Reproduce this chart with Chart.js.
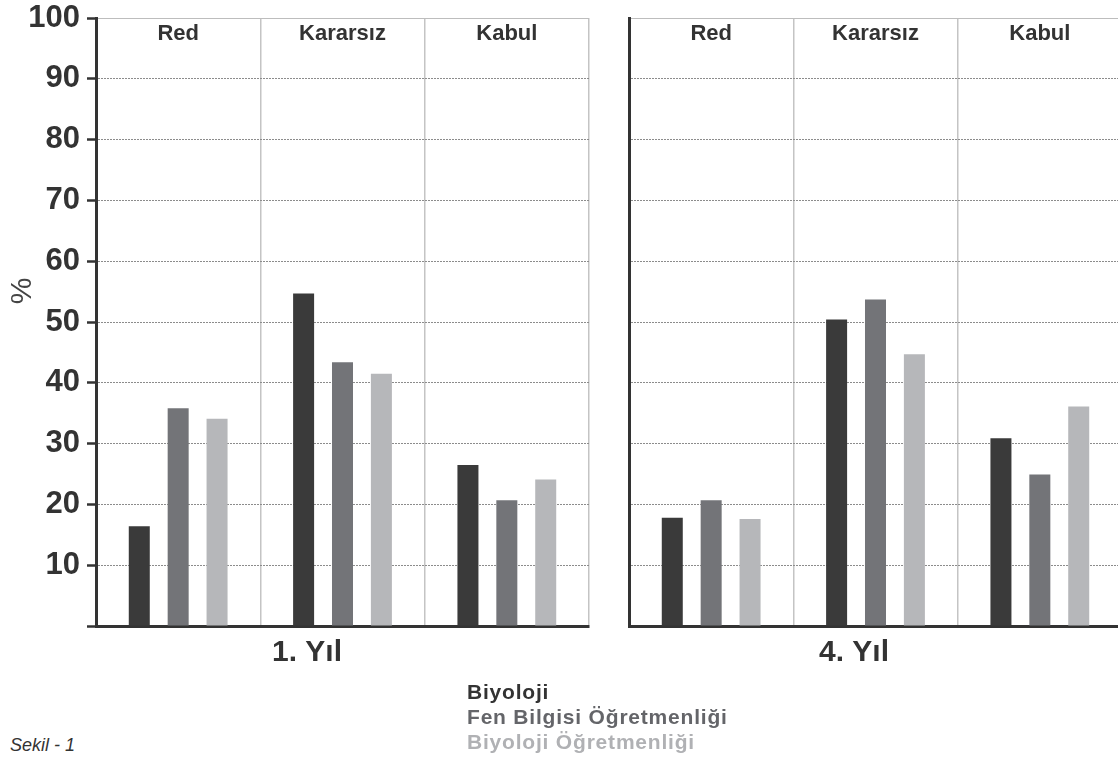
<!DOCTYPE html>
<html>
<head>
<meta charset="utf-8">
<script src="https://cdn.jsdelivr.net/npm/chart.js@4.4.0/dist/chart.umd.min.js"></script>
<style>
  html, body { margin: 0; padding: 0; background: #fff; overflow: hidden; width: 1118px; height: 762px; }
  canvas { position: absolute; top: 0; }
  #left { left: 0; }
  #right { left: 600px; }
  .legend { position: absolute; left: 467px; top: 679px; font: bold 21px "Liberation Sans", Arial, sans-serif; letter-spacing: 0.8px; line-height: 25px; }
  .caption { position: absolute; left: 10px; top: 735px; font: italic 18px "Liberation Sans", Arial, sans-serif; color: #333; }
</style>
</head>
<body>
<canvas id="left" width="600" height="680"></canvas>
<canvas id="right" width="530" height="680"></canvas>
<div class="legend">
  <div style="color:#333">Biyoloji</div>
  <div style="color:#646569">Fen Bilgisi Öğretmenliği</div>
  <div style="color:#b0b1b4">Biyoloji Öğretmenliği</div>
</div>
<div class="caption">Sekil - 1</div>
<script>
const categories = ['Red', 'Kararsız', 'Kabul'];
const seriesNames = ['Biyoloji', 'Fen Bilgisi Öğretmenliği', 'Biyoloji Öğretmenliği'];
const seriesColors = ['#3a3a3a', '#737478', '#b6b7ba'];
const yTicks = [0, 10, 20, 30, 40, 50, 60, 70, 80, 90, 100];

// 1. Yıl
const biyoloji1 = [16.4, 54.7, 26.5];
const fenBilgisi1 = [35.8, 43.4, 20.7];
const biyolojiOgr1 = [34.1, 41.5, 24.1];

// 4. Yıl
const biyoloji4 = [17.8, 50.4, 30.9];
const fenBilgisi4 = [20.7, 53.7, 24.9];
const biyolojiOgr4 = [17.6, 44.7, 36.1];

const FONT = '"Liberation Sans", Arial, sans-serif';

// draws category names inside the top of the plot, the year caption and the % label
const panelText = {
  id: 'panelText',
  afterDraw(chart, args, opts) {
    const { ctx, chartArea, scales } = chart;
    ctx.save();
    ctx.fillStyle = '#333';
    ctx.textAlign = 'center';
    ctx.textBaseline = 'middle';
    ctx.font = 'bold 22px ' + FONT;
    chart.data.labels.forEach((lab, i) => {
      ctx.fillText(lab, scales.x.getPixelForValue(i), chartArea.top + 16);
    });
    ctx.font = 'bold 30px ' + FONT;
    ctx.fillText(opts.caption, chartArea.left + opts.captionOffset, chartArea.bottom + 27);
    if (opts.yLabel) {
      ctx.translate(23, 291);
      ctx.rotate(-Math.PI / 2);
      ctx.fillStyle = '#444';
      ctx.font = '30px ' + FONT;
      ctx.fillText(opts.yLabel, 0, 0);
    }
    ctx.restore();
  }
};

function makeDatasets(a, b, c) {
  return [a, b, c].map((vals, i) => ({
    label: seriesNames[i],
    data: vals,
    backgroundColor: seriesColors[i],
    borderWidth: 0,
    categoryPercentage: 0.71,
    barPercentage: 0.54
  }));
}

function makeChart(id, datasets, withAxisLabels, caption, captionOffset, axisWidth, padRight) {
  const ctx = document.getElementById(id).getContext('2d');
  return new Chart(ctx, {
    type: 'bar',
    data: { labels: categories, datasets: datasets },
    plugins: [panelText],
    options: {
      responsive: false,
      animation: false,
      layout: { padding: { top: 18, right: padRight, left: 0, bottom: 0 } },
      plugins: {
        legend: { display: false },
        tooltip: { enabled: false },
        panelText: { caption: caption, captionOffset: captionOffset, yLabel: withAxisLabels ? '%' : null }
      },
      scales: {
        x: {
          ticks: { display: false },
          grid: { color: '#c4c4c4', lineWidth: 1.5, drawTicks: false, offset: true },
          border: { color: '#333', width: 3 },
          afterFit(scale) { scale.height = 54; }
        },
        y: {
          min: 0,
          max: 100,
          afterBuildTicks(scale) { scale.ticks = yTicks.map(v => ({ value: v })); },
          ticks: {
            display: withAxisLabels,
            color: '#333',
            padding: 7,
            font: { family: FONT, size: 31, weight: 'bold', lineHeight: 1 },
            callback: v => (v === 0 ? '' : v)
          },
          grid: {
            color: c => (c.tick && c.tick.value === 100 ? '#bdbdbd' : '#8c8c8c'),
            lineWidth: 1,
            drawTicks: withAxisLabels,
            tickLength: 9,
            tickColor: '#333',
            tickWidth: 2.5
          },
          border: {
            color: '#333',
            width: 3,
            dash: c => (c.tick && c.tick.value === 100 ? [] : [2, 1])
          },
          afterFit(scale) {
            scale.width = axisWidth;
            scale.paddingTop = 0;
            scale.paddingBottom = 0;
          }
        }
      }
    }
  });
}

makeChart('left', makeDatasets(biyoloji1, fenBilgisi1, biyolojiOgr1), true, '1. Yıl', 211, 96, 11);
makeChart('right', makeDatasets(biyoloji4, fenBilgisi4, biyolojiOgr4), false, '4. Yıl', 225, 29, 8);
</script>
</body>
</html>
